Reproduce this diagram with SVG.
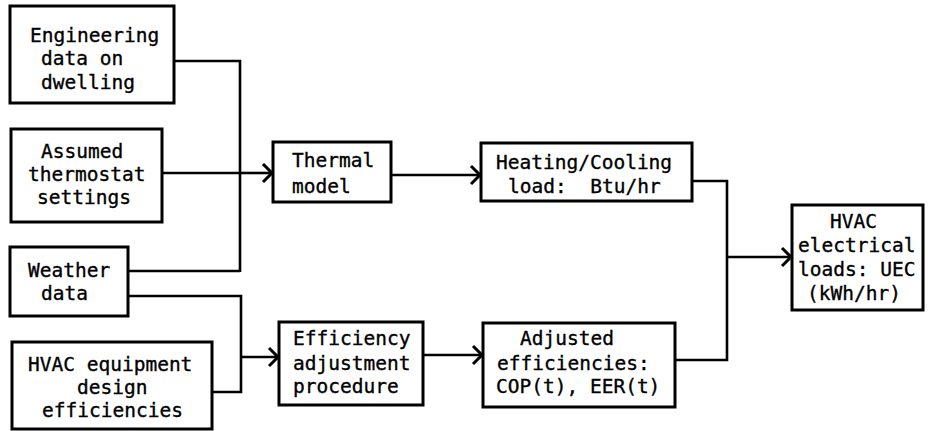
<svg xmlns="http://www.w3.org/2000/svg" width="928" height="431" viewBox="0 0 928 431">
<style>
.box{fill:#fff;stroke:#000;stroke-width:3}
.t{font-family:"DejaVu Sans Mono","Liberation Mono",monospace;font-size:19.5px;fill:#000;stroke:#000;stroke-width:0.35}
.c{fill:none;stroke:#000;stroke-width:2.6}
</style>
<defs>
<marker id="arr" markerUnits="userSpaceOnUse" markerWidth="16" markerHeight="24" viewBox="-12 -12 16 24" refX="0" refY="0" orient="auto">
<path d="M-9,-9 L0,0 L-9,9" fill="none" stroke="#000" stroke-width="3"/>
</marker>
</defs>
<rect width="928" height="431" fill="#fff"/>
<g id="connectors">
<path class="c" d="M174,61 H240 V272"/>
<path class="c" d="M162,173 H240"/>
<path class="c" d="M128,271 H240"/>
<path class="c" d="M240,173 H272" marker-end="url(#arr)"/>
<path class="c" d="M128,296 H241 V392 H212"/>
<path class="c" d="M241,357 H278" marker-end="url(#arr)"/>
<path class="c" d="M391,175 H480" marker-end="url(#arr)"/>
<path class="c" d="M423,355 H482" marker-end="url(#arr)"/>
<path class="c" d="M692,181 H727 V360 H675"/>
<path class="c" d="M727,257 H791" marker-end="url(#arr)"/>
</g>
<g id="engineering">
<rect class="box" x="10" y="6" width="164" height="97"/>
<text class="t" x="30" y="42">Engineering</text>
<text class="t" x="41" y="65">data on</text>
<text class="t" x="41" y="89">dwelling</text>
</g>
<g id="thermostat">
<rect class="box" x="11" y="129" width="151" height="93"/>
<text class="t" x="41" y="158">Assumed</text>
<text class="t" x="28" y="181">thermostat</text>
<text class="t" x="37" y="204">settings</text>
</g>
<g id="weather">
<rect class="box" x="10" y="247" width="118" height="69"/>
<text class="t" x="28" y="277">Weather</text>
<text class="t" x="41" y="300">data</text>
</g>
<g id="equipment">
<rect class="box" x="12" y="342" width="200" height="87"/>
<text class="t" x="28" y="371">HVAC equipment</text>
<text class="t" x="77" y="394">design</text>
<text class="t" x="42" y="417">efficiencies</text>
</g>
<g id="thermal">
<rect class="box" x="273" y="142" width="118" height="60"/>
<text class="t" x="292" y="167">Thermal</text>
<text class="t" x="292" y="193">model</text>
</g>
<g id="load">
<rect class="box" x="481" y="143" width="211" height="58"/>
<text class="t" x="496" y="169">Heating/Cooling</text>
<text class="t" x="508" y="193" xml:space="preserve">load:  Btu/hr</text>
</g>
<g id="efficiency">
<rect class="box" x="279" y="322" width="144" height="83"/>
<text class="t" x="293" y="345">Efficiency</text>
<text class="t" x="293" y="370">adjustment</text>
<text class="t" x="293" y="393">procedure</text>
</g>
<g id="adjusted">
<rect class="box" x="483" y="323" width="192" height="84"/>
<text class="t" x="520" y="345">Adjusted</text>
<text class="t" x="497" y="370">efficiencies:</text>
<text class="t" x="496" y="393">COP(t), EER(t)</text>
</g>
<g id="uec">
<rect class="box" x="792" y="205" width="131" height="105"/>
<text class="t" x="830" y="228">HVAC</text>
<text class="t" x="798" y="252">electrical</text>
<text class="t" x="798" y="276">loads: UEC</text>
<text class="t" x="807" y="300">(kWh/hr)</text>
</g>
</svg>
